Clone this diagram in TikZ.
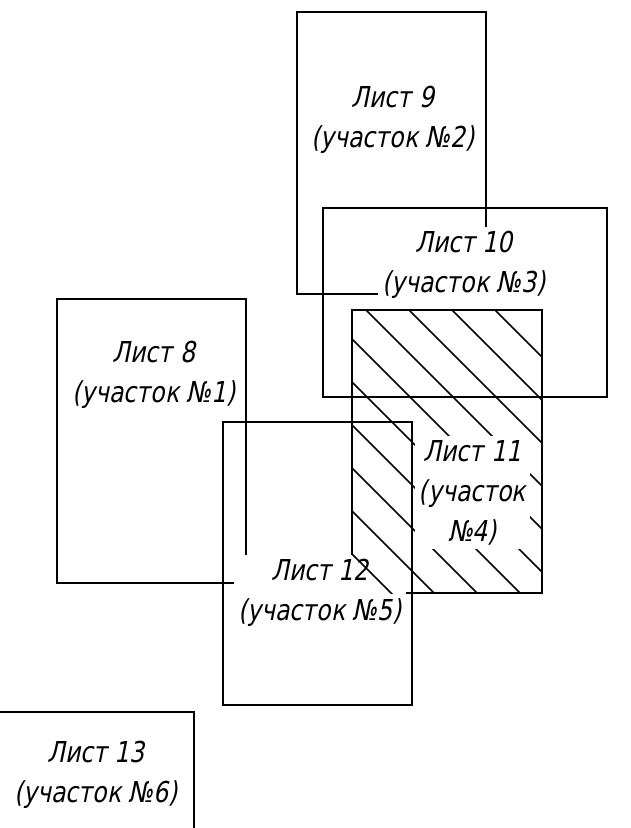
\documentclass[tikz,border=0pt]{standalone}
\usepackage{fontspec}
\setmainfont{DejaVu Sans}[FakeStretch=0.82,FakeSlant=0.2]
\tikzset{
  sheet/.style={draw=black, line width=2pt},
  hatchline/.style={draw=black, line width=1.6pt},
  lbl/.style={align=center, font=\fontsize{28.8}{40}\selectfont, inner sep=4pt},
  mask/.style={lbl, fill=white},
}
\begin{document}
\begin{tikzpicture}[x=1pt, y=-1pt]
\useasboundingbox (0,0) rectangle (630,828);
\clip (0,0) rectangle (630,828);
\fill[white] (0,0) rectangle (630,828);
% sheets
\draw[sheet] (297,12) rectangle (486,294);   % sheet 9
\draw[sheet] (323,208) rectangle (607,397);  % sheet 10
\draw[sheet] (57,299) rectangle (246,583);   % sheet 8
\draw[sheet] (223,422) rectangle (412,705);  % sheet 12
\draw[sheet] (352,310) rectangle (542,593);  % sheet 11
\draw[sheet] (-20,712) rectangle (194,1000); % sheet 13
% label 12 (masks lines under it)
\node[mask] (l12) at (320,593) {Лист 12\\(участок №5)};
% hatching of sheet 11
\begin{scope}
  \clip (352,310) rectangle (542,593);
  \foreach \c in {-185,-142,-99,-56,-13,30,73,116,159,202}
    \draw[hatchline] (300,300+\c) -- (650,650+\c);
\end{scope}
\node[mask] (l11) at (472.5,492.5) {Лист 11\\(участок\\№4)};
\node[mask] (l10) at (464,264.5) {Лист 10\\(участок №3)};
\node[lbl] (l9) at (393,120) {Лист 9\\(участок №2)};
\node[lbl] (l8) at (154,374.5) {Лист 8\\(участок №1)};
\node[lbl] (l13) at (96,774.5) {Лист 13\\(участок №6)};
\end{tikzpicture}
\end{document}
